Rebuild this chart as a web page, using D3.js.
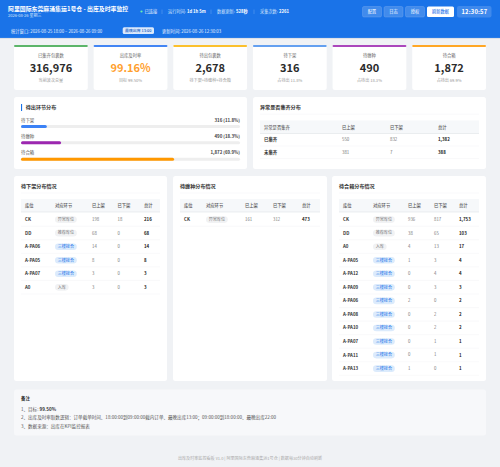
<!DOCTYPE html>
<html>
<head>
<meta charset="utf-8">
<script src="https://cdn.jsdelivr.net/npm/d3@7"></script>
<style>
html,body{margin:0;padding:0;background:#f0f2f5;}
svg{display:block;}
text{font-family:"Noto Sans CJK SC","Noto Sans",sans-serif;}
</style>
</head>
<body>
<svg id="chart" width="500" height="467"></svg>
<script>
// stat cards
var cardTitles=['已集齐包裹数','出库及时率','待出包裹数','待下架','待缠种','待合箱'];
var cardValues=['316,976','99.16%','2,678','316','490','1,872'];
var cardNotes=['当前波次总量','目标 99.50%','待下架+待缠种+待合箱','占待出 11.8%','占待出 18.3%','占待出 69.9%'];
var cardTops=['#5cb56a','#4285f4','#fbc02d','#64a0f0','#ab47bc','#ffa726'];

// 待出环节分布
var stages=['待下架','待缠种','待合箱'];
var stageCounts=[316,490,1872];
var stageLabels=['316 (11.8%)','490 (18.3%)','1,872 (69.9%)'];
var stageColors=['#3b82f6','#9c27b0','#ff9800'];

// 异常是否集齐
var headAbn=['异常是否集齐','已上架','已下架','总计'];
var rowsAbn=[['已集齐','550','832','1,382'],['未集齐','381','7','388']];

var headLoc=['库位','对应环节','已上架','已下架','总计'];
var rowsXia=[
 ['CK','异常库位','198','18','216'],
 ['DD','推荐库位','68','0','68'],
 ['A-PA06','三楼接合','14','0','14'],
 ['A-PA05','三楼接合','8','0','8'],
 ['A-PA07','三楼接合','3','0','3'],
 ['A0','入库','3','0','3']
];
var rowsChan=[['CK','异常库位','161','312','473']];
var rowsHe=[
 ['CK','异常库位','936','817','1,753'],
 ['DD','推荐库位','38','65','103'],
 ['A0','入库','4','13','17'],
 ['A-PA05','三楼接合','1','3','4'],
 ['A-PA12','三楼接合','0','4','4'],
 ['A-PA09','三楼接合','0','3','3'],
 ['A-PA06','三楼接合','2','0','2'],
 ['A-PA08','三楼接合','0','2','2'],
 ['A-PA10','三楼接合','0','2','2'],
 ['A-PA07','三楼接合','0','1','1'],
 ['A-PA11','三楼接合','0','1','1'],
 ['A-PA13','三楼接合','1','0','1']
];
var notes=['、目标: ','、出库及时率取数逻辑：订单截单时间、18:00:00到09:00:00截内订单、最晚出库13:00；09:00:00到18:00:00、最晚出库22:00','、数据来源：出库在KPI监控报表'];

var svg=d3.select('#chart');

function txt(x,y,s,size,color,weight,anchor){
  return svg.append('text').attr('x',x).attr('y',y).attr('dy','0.35em')
    .attr('font-size',size).attr('fill',color).attr('font-weight',weight||400)
    .attr('text-anchor',anchor||'start').text(s);
}
function box(x,y,w,h,fill,r){
  return svg.append('rect').attr('x',x).attr('y',y).attr('width',w).attr('height',h)
    .attr('rx',r||0).attr('fill',fill);
}
function line(x1,x2,y,color,w){
  svg.append('line').attr('x1',x1).attr('x2',x2).attr('y1',y).attr('y2',y)
    .attr('stroke',color).attr('stroke-width',w||0.4);
}

// header
box(0,0,500,38,'#1a73e8');
line(0,500,38.4,'#d5dbe3',0.8);
txt(8,9,'阿里国际东莞麻涌集运1号仓 - 出库及时率监控',5.9,'#fff',700);
txt(8,15.7,'2026-08-26 星期三',4,'#d6e6fb');
svg.append('circle').attr('cx',141.5).attr('cy',11.5).attr('r',1.1).attr('fill','#69f0ae');
txt(144.5,11.5,'已连接',4.3,'#e8f1fd');
txt(168,11.5,'运行时间: ',4.2,'#d6e6fb');
txt(187,11.5,'1d 1h 5m',4.2,'#fff',700);
txt(217,11.5,'数据更新: ',4.2,'#d6e6fb');
txt(236,11.5,'528秒',4.2,'#fff',700);
txt(260,11.5,'采集次数: ',4.2,'#d6e6fb');
txt(279,11.5,'2261',4.2,'#fff',700);
var seps=[162,211,254];
seps.forEach(function(x){
  svg.append('line').attr('x1',x).attr('x2',x).attr('y1',9.5).attr('y2',14).attr('stroke','#7fb0f2').attr('stroke-width',0.4);
});

var btnX=[362.5,384,405.5],btnText=['配置','日志','授权'];
btnX.forEach(function(x,i){
  box(x,6.5,19,10.5,'#418bec',1.5).attr('stroke','#76aaf1').attr('stroke-width',0.4);
  txt(x+9.5,11.8,btnText[i],4.2,'#fff',400,'middle');
});
box(427,6.5,27,10.5,'#fff',1.5);
txt(440.5,11.8,'刷新数据',4.2,'#1a73e8',500,'middle');
box(457,6,34.5,11.5,'#3f89ec',2);
txt(474.4,11.8,'12:30:57',5.8,'#fff',700,'middle').attr('letter-spacing',0.2);

txt(11,31,'统计窗口: 2026-08-25 18:00 ~ 2026-08-26 09:00',4.3,'#e8f1fd');
box(122.7,27.2,31.3,6.9,'#dbe9fc',1.5);
txt(138.3,30.8,'最晚出库 13:00',3.9,'#1a5fc0',500,'middle');
txt(162,31,'更新时间: 2026-08-26 12:30:03',4.3,'#e8f1fd');

// cards
var cardScale=d3.scaleBand().domain(cardTitles).range([14,486]).paddingInner(0.0735);
cardTitles.forEach(function(t,i){
  var x=cardScale(t),w=cardScale.bandwidth(),cx=x+w/2;
  box(x,45,w,45,'#fff',2.5);
  box(x,45,w,2,cardTops[i],1);
  txt(cx,55.5,t,4.3,'#666',400,'middle');
  txt(cx,68.5,cardValues[i],11,i==1?'#ff9f2e':'#2b2b2b',700,'middle');
  txt(cx,80.5,cardNotes[i],4.1,'#999',400,'middle');
});

// 环节分布
box(14,97,233,72,'#fff',2.5);
box(21,104,1.1,7,'#1a73e8');
txt(25.7,107.7,'待出环节分布',5.1,'#333',700);
var total=d3.sum(stageCounts);
var barScale=d3.scaleLinear().domain([0,total]).range([0,219]);
var stageY=d3.scalePoint().domain(stages).range([120,152.7]);
stages.forEach(function(s,i){
  var y=stageY(s);
  txt(21,y,s,4.4,'#555');
  txt(240,y,stageLabels[i],4.4,'#444',700,'end');
  box(21,y+5,219,3,'#eee',1.5);
  box(21,y+5,barScale(stageCounts[i]),3,stageColors[i],1.5);
});

function tableHead(x,w,y,h,cols,head){
  box(x,y,w,h,'#f6f8fa');
  line(x,x+w,y+h,'#e3e6ea',0.7);
  head.forEach(function(t,i){txt(cols[i],y+h/2,t,4.3,'#555',500);});
}
function panelTitle(x,y,w,s){
  txt(x,y,s,5.1,'#333',700);
  line(x,x+w,y+6.5,'#f2f3f5',0.5);
}

// 异常集齐表
box(253,97,233,72,'#fff',2.5);
panelTitle(260,107.7,219,'异常是否集齐分布');
var abnCols=[264,342,390,438];
tableHead(260,219,120.5,13,abnCols,headAbn);
var abnY=d3.scaleBand().domain(d3.range(rowsAbn.length)).range([133.5,158.5]);
rowsAbn.forEach(function(r,i){
  var y=abnY(i)+abnY.bandwidth()/2;
  r.forEach(function(v,j){
    txt(abnCols[j],y,v,4.4,j==0?'#333':j==3?'#222':'#777',j==0||j==3?700:400);
  });
  line(260,479,abnY(i)+abnY.bandwidth(),'#f0f1f3',0.4);
});

function tag(x,y,s,blue){
  var w=s.length*4.1+5.4;
  box(x,y-3.2,w,6.6,blue?'#dcebfc':'#f1f2f4',3.3);
  txt(x+2.7,y,s,4.1,blue?'#1a73e8':'#777');
}

function locPanel(x,w,title,cols,tagX,rows){
  box(x,176,w,205,'#fff',2.5);
  panelTitle(x+7,186.5,w-14,title);
  tableHead(x+7,w-14,199,13,cols,headLoc);
  var rowY=d3.scaleBand().domain(d3.range(12)).range([212.7,375.3]);
  rows.forEach(function(r,i){
    var y=rowY(i)+rowY.bandwidth()/2;
    txt(cols[0],y,r[0],4.4,'#333',700);
    tag(tagX,y,r[1],r[1]=='三楼接合');
    txt(cols[2],y,r[2],4.3,'#777');
    txt(cols[3],y,r[3],4.3,'#777');
    txt(cols[4],y,r[4],4.4,'#222',700);
    line(x+7,x+w-7,rowY(i)+rowY.bandwidth(),'#f0f1f3',0.4);
  });
}
locPanel(14,153,'待下架分布情况',[25,55,92,117.5,144],55,rowsXia);
locPanel(173,154,'待缠种分布情况',[184,206,245,273,302],206,rowsChan);
locPanel(332,154,'待合箱分布情况',[343,373,408,434,459],373,rowsHe);

// notes
box(14,389.5,472,46,'#f7f8fa',2.5);
txt(21,398.4,'备注',4.4,'#333',700);
notes.forEach(function(n,i){
  var y=409+i*8.6;
  var t=txt(21,y,(i+1)+n,4.55,'#555');
  if(i==0) t.append('tspan').attr('font-weight',700).attr('fill','#333').text('99.50%');
});

txt(250,459,'出库及时率监控看板 v1.0 | 阿里国际东莞麻涌集运1号仓 | 数据每30分钟自动刷新',4.1,'#aaa',400,'middle');
</script>
</body>
</html>
